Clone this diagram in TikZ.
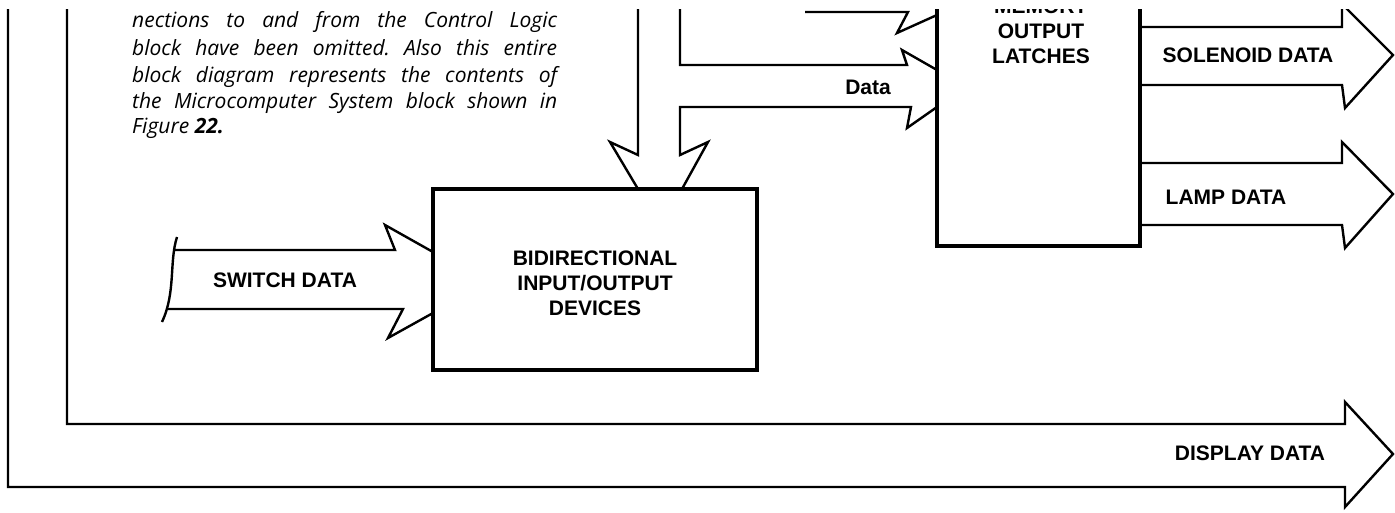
\documentclass[tikz,border=0pt]{standalone}
\usepackage{fontspec}
\setmainfont{Liberation Sans}
\newfontfamily\capfont{Open Sans}
\frenchspacing
\begin{document}
\begin{tikzpicture}[x=1pt,y=-1pt,
  bus/.style={line width=2.4pt, line join=miter, miter limit=4},
  blockbox/.style={draw, line width=4.5pt, inner sep=0pt},
  lbl/.style={font=\fontsize{21}{25}\selectfont\bfseries, align=center, inner sep=0pt},
  captxt/.style={font=\capfont\itshape\fontsize{21}{26}\selectfont, anchor=base west, inner sep=0pt}]
\useasboundingbox (0,0) rectangle (1395,512);
\fill[white] (0,0) rectangle (1395,512);
\begin{scope}
\clip (0,9) rectangle (1395,512);
% boxes
\node[blockbox, minimum width=324pt, minimum height=181pt] (bidir) at (595,279.5) {};
\node[blockbox, minimum width=203pt, minimum height=256pt] (latch) at (1038.5,118) {};
% named end points
\coordinate (swtop) at (433,252);
\coordinate (swbot) at (433,313);
\coordinate (dnl) at (638,189);
\coordinate (dnr) at (682,189);
% display data bus (outer / inner lines)
\draw[bus] (8,0) -- (8,487) -- (1345,487) -- (1345,507) -- (1393,454) -- (1345,402) -- (1345,424) -- (67,424) -- (67,0);
% vertical bus into bidirectional devices, with Data branch to latches
\draw[bus] (638,0) -- (638,155) -- (610,142) -- (dnl);
\draw[bus] (680,0) -- (680,65) -- (907,65) -- (902,50) -- (937,70);
\draw[bus] (937,107) -- (907,128) -- (911,107) -- (680,107) -- (680,155) -- (708,142) -- (dnr);
% top arrow into latches (partly cut off)
\draw[bus] (805,12) -- (908,12) -- (897,33) -- (937,15);
% switch data
\draw[bus] (swtop) -- (385,225) -- (395,250) -- (174,250);
\draw[bus] (177,237) .. controls (169,262) and (176,292) .. (162,322);
\draw[bus] (168,309) -- (403,309) -- (388,338) -- (swbot);
% solenoid data
\draw[bus] (1140,27) -- (1342,27) -- (1342,4) -- (1393,55) -- (1345,108) -- (1342,85) -- (1140,85);
% lamp data
\draw[bus] (1140,163) -- (1342,163) -- (1342,142) -- (1393,194) -- (1345,248) -- (1342,225) -- (1140,225);
% labels
\node[lbl] (tbidir) at (595,283) {BIDIRECTIONAL\\INPUT/OUTPUT\\DEVICES};
\node[lbl] (tlatch) at (1041,31.5) {MEMORY\\OUTPUT\\LATCHES};
\node[lbl] (tdata) at (868,87) {Data};
\node[lbl] (tsol) at (1248,55) {SOLENOID DATA};
\node[lbl] (tlamp) at (1226,197) {LAMP DATA};
\node[lbl] (tsw) at (285,280) {SWITCH DATA};
\node[lbl] (tdisp) at (1250,453) {DISPLAY DATA};
% caption
\node[captxt] (c1) at (132,27) {\makebox[425pt][s]{nections to and from the Control Logic}};
\node[captxt] (c2) at (132,55) {\makebox[425pt][s]{block have been omitted. Also this entire}};
\node[captxt] (c3) at (132,82) {\makebox[425pt][s]{block diagram represents the contents of}};
\node[captxt] (c4) at (132,108) {\makebox[425pt][s]{the Microcomputer System block shown in}};
\node[captxt] (c5) at (132,133) {Figure \textbf{22.}};
\end{scope}
\end{tikzpicture}
\end{document}
